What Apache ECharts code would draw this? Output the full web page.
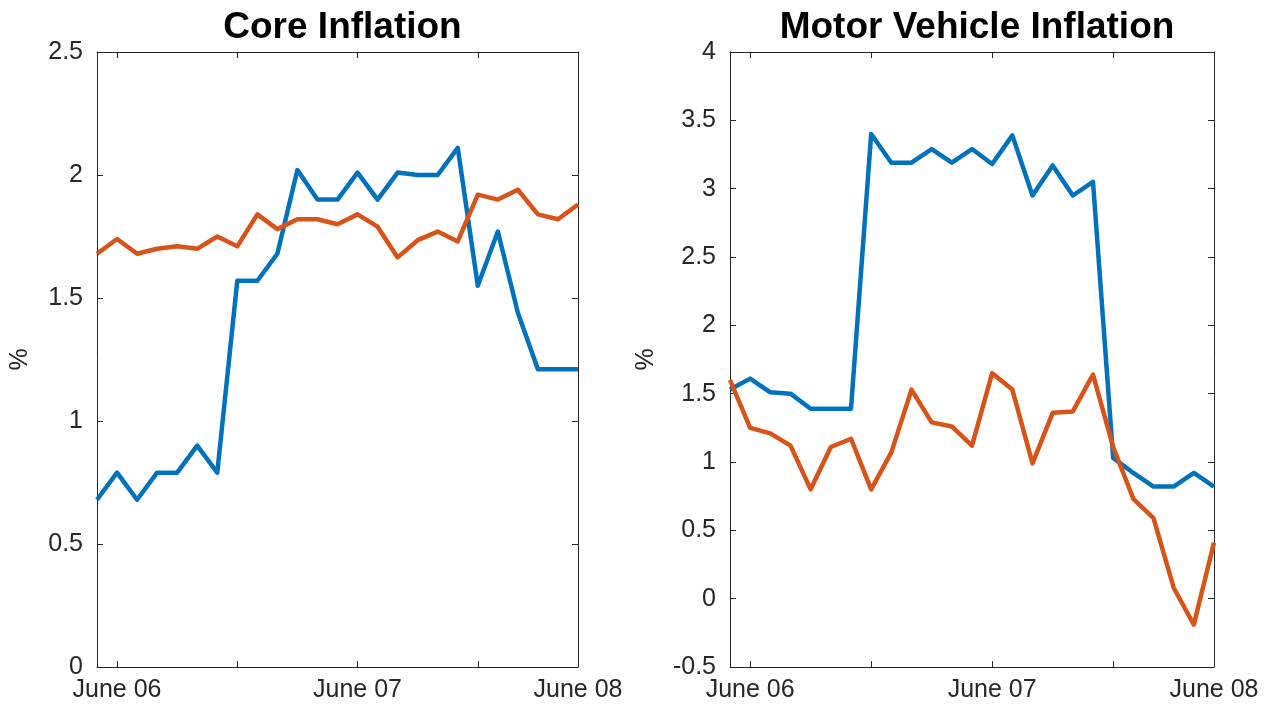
<!DOCTYPE html>
<html>
<head>
<meta charset="utf-8">
<script src="https://cdn.jsdelivr.net/npm/echarts@6/dist/echarts.min.js"></script>
<style>
  html, body { margin: 0; padding: 0; background: #fff; }
  #chart { width: 1273px; height: 708px; }
</style>
</head>
<body>
<div id="chart"></div>
<script>
// monthly observations, May 06 .. May 08 (25 points)
const months = [
  "May 06", "Jun 06", "Jul 06", "Aug 06", "Sep 06", "Oct 06", "Nov 06", "Dec 06",
  "Jan 07", "Feb 07", "Mar 07", "Apr 07", "May 07", "Jun 07", "Jul 07", "Aug 07",
  "Sep 07", "Oct 07", "Nov 07", "Dec 07", "Jan 08", "Feb 08", "Mar 08", "Apr 08", "May 08"
];
// x ticks and the labels that are shown
const tickIndex = [1, 7, 13, 19, 24];
const tickLabels = { 1: "June 06", 13: "June 07", 24: "June 08" };

const coreBlue = [
  0.68, 0.79, 0.68, 0.79, 0.79, 0.90, 0.79, 1.57, 1.57, 1.68, 2.02, 1.90, 1.90,
  2.01, 1.90, 2.01, 2.00, 2.00, 2.11, 1.55, 1.77, 1.44, 1.21, 1.21, 1.21
];
const coreOrange = [
  1.68, 1.74, 1.68, 1.70, 1.71, 1.70, 1.75, 1.71, 1.84, 1.78, 1.82, 1.82, 1.80,
  1.84, 1.79, 1.665, 1.735, 1.77, 1.73, 1.92, 1.90, 1.94, 1.84, 1.82, 1.88
];
const motorBlue = [
  1.53, 1.61, 1.51, 1.50, 1.39, 1.39, 1.39, 3.40, 3.19, 3.19, 3.29, 3.19, 3.29,
  3.18, 3.39, 2.95, 3.17, 2.95, 3.05, 1.03, 0.92, 0.82, 0.82, 0.92, 0.82
];
const motorOrange = [
  1.60, 1.25, 1.21, 1.12, 0.80, 1.11, 1.17, 0.80, 1.07, 1.53, 1.29, 1.26, 1.12,
  1.65, 1.53, 0.99, 1.36, 1.37, 1.64, 1.11, 0.73, 0.59, 0.08, -0.19, 0.41
];

const BLUE = "#0072BD";
const ORANGE = "#D95319";
const AXIS = "#262626";
const FONT = "Liberation Sans";

const panels = [
  { title: "Core Inflation", left: 97, width: 481, min: 0, max: 2.5, nameGap: 64, blue: coreBlue, orange: coreOrange },
  { title: "Motor Vehicle Inflation", left: 730, width: 484, min: -0.5, max: 4, nameGap: 71, blue: motorBlue, orange: motorOrange }
];

const chart = echarts.init(document.getElementById("chart"));

const title = [], grid = [], xAxis = [], yAxis = [], series = [];

panels.forEach((p, i) => {
  title.push({
    text: p.title,
    left: p.left + p.width / 2,
    textAlign: "center",
    top: 4,
    textStyle: { fontFamily: FONT, fontSize: 37, fontWeight: "bold", color: "#000" }
  });
  grid.push({ left: p.left, width: p.width, top: 52, height: 615 });

  const tickShow = (idx) => tickIndex.indexOf(idx) >= 0;
  const baseX = {
    type: "category",
    gridIndex: i,
    data: months,
    boundaryGap: false,
    axisLine: { onZero: false, lineStyle: { color: AXIS, width: 1 } },
    axisTick: { inside: true, length: 6, interval: tickShow, lineStyle: { color: AXIS } },
    splitLine: { show: false }
  };
  xAxis.push(Object.assign({}, baseX, {
    position: "bottom",
    axisLabel: {
      interval: (idx) => tickLabels[idx] !== undefined,
      formatter: (v, idx) => tickLabels[idx] || "",
      color: AXIS, fontFamily: FONT, fontSize: 25, margin: 11
    }
  }));
  xAxis.push(Object.assign({}, baseX, { position: "top", axisLabel: { show: false } }));

  const baseY = {
    type: "value",
    gridIndex: i,
    min: p.min,
    max: p.max,
    interval: 0.5,
    axisLine: { show: true, onZero: false, lineStyle: { color: AXIS, width: 1 } },
    axisTick: { show: true, inside: true, length: 6, lineStyle: { color: AXIS } },
    splitLine: { show: false }
  };
  yAxis.push(Object.assign({}, baseY, {
    position: "left",
    name: "%",
    nameLocation: "middle",
    nameRotate: 90,
    nameGap: p.nameGap,
    nameTextStyle: { fontFamily: FONT, fontSize: 25, color: AXIS },
    axisLabel: { color: AXIS, fontFamily: FONT, fontSize: 25, margin: 14 }
  }));
  yAxis.push(Object.assign({}, baseY, { position: "right", axisLabel: { show: false } }));

  [[p.blue, BLUE], [p.orange, ORANGE]].forEach(([vals, color]) => {
    series.push({
      type: "line",
      xAxisIndex: i * 2,
      yAxisIndex: i * 2,
      data: vals,
      showSymbol: false,
      lineStyle: { color: color, width: 4.5, join: "round" },
      itemStyle: { color: color },
      animation: false
    });
  });
});

chart.setOption({ animation: false, title, grid, xAxis, yAxis, series });
</script>
</body>
</html>
